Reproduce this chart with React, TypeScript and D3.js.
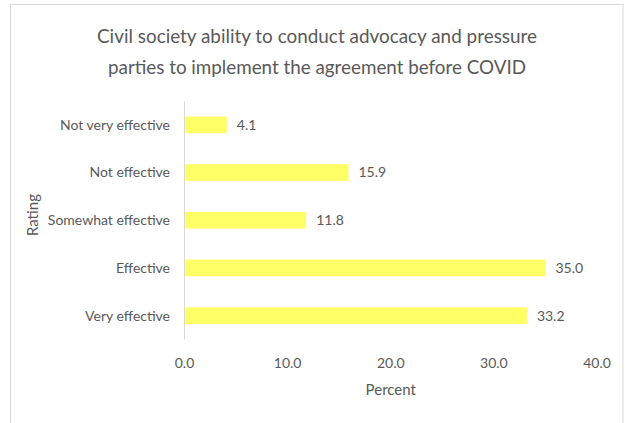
import React from "react";
import * as d3 from "d3";

const categories = ["Not very effective", "Not effective", "Somewhat effective", "Effective", "Very effective"];
const values = [4.1, 15.9, 11.8, 35.0, 33.2];
const xTicks = [0, 10, 20, 30, 40];
const titleLines = [
  "Civil society ability to conduct advocacy and pressure",
  "parties to implement the agreement before COVID",
];
const titleWidths = [440, 418];

const W = 625;
const H = 423;
const FONT = "Lato, 'Open Sans', sans-serif";
const TEXT = "#595959";

export default function App() {
  const x = d3.scaleLinear().domain([0, 40]).range([184.5, 597]);
  const y = d3.scaleBand<string>().domain(categories).range([101, 339.5]).paddingInner(0.65).paddingOuter(0.325);

  return (
    <svg width={W} height={H} style={{ position: "absolute", left: 0, top: 0 }} fontFamily={FONT}>
      <rect x={0} y={0} width={W} height={H} fill="#ffffff" />
      <rect x={10.5} y={4.5} width={612.5} height={430} fill="none" stroke="#d9d9d9" strokeWidth={1} />
      {titleLines.map((t, i) => (
        <text
          key={i}
          x={317}
          y={43 + i * 31}
          textAnchor="middle"
          fontSize={20}
          fill={TEXT}
          textLength={titleWidths[i]}
          lengthAdjust="spacingAndGlyphs"
        >
          {t}
        </text>
      ))}
      {categories.map((c, i) => (
        <g key={c}>
          <rect x={x(0)} y={y(c)!} width={x(values[i]) - x(0)} height={y.bandwidth()} fill="#ffff66" />
          <text x={170} y={y(c)! + y.bandwidth() / 2} dy="0.35em" textAnchor="end" fontSize={14} fill={TEXT}>
            {c}
          </text>
          <text x={x(values[i]) + 10} y={y(c)! + y.bandwidth() / 2} dy="0.35em" fontSize={14} fill={TEXT}>
            {values[i].toFixed(1)}
          </text>
        </g>
      ))}
      <line x1={x(0)} x2={x(0)} y1={101} y2={339.5} stroke="#d9d9d9" strokeWidth={1} />
      {xTicks.map((t) => (
        <text key={t} x={x(t)} y={363} dy="0.35em" textAnchor="middle" fontSize={14} fill={TEXT}>
          {t.toFixed(1)}
        </text>
      ))}
      <text x={x(20)} y={390} dy="0.35em" textAnchor="middle" fontSize={15} fill={TEXT}>
        Percent
      </text>
      <text transform={`translate(33,215) rotate(-90)`} dy="0.35em" textAnchor="middle" fontSize={15} fill={TEXT}>
        Rating
      </text>
    </svg>
  );
}
